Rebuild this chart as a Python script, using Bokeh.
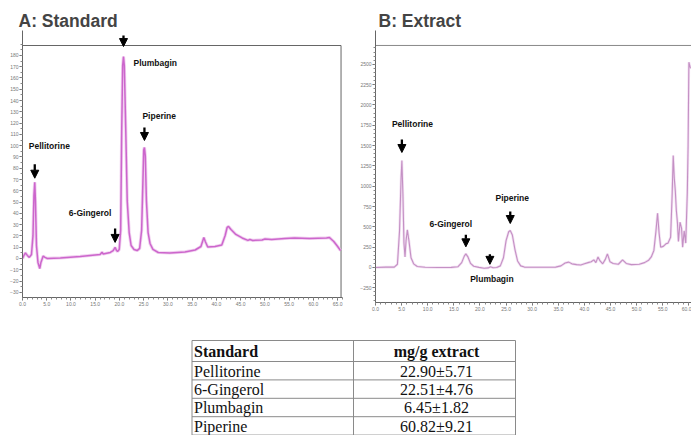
import numpy as np
from bokeh.plotting import figure
from bokeh.layouts import column, row
from bokeh.models import (Range1d, Arrow, NormalHead, FixedTicker,
                          ColumnDataSource, NumeralTickFormatter)
from bokeh.core.properties import value
from bokeh.embed import file_html
from bokeh.resources import INLINE

# ---------------- data ----------------
# A: Standard chromatogram (time in min, signal)
std_time = [0.0, 0.4, 0.6, 1.0, 1.4, 1.85, 2.16, 2.36, 2.53, 2.67, 2.88, 3.19, 3.56, 3.8,
            4.26, 4.63, 5.14, 7.8, 11.9, 16.0, 16.4, 16.65, 18.1, 18.7, 19.1, 19.4, 19.6,
            19.95, 20.25, 20.46, 20.66, 20.83, 21.0, 21.3, 21.6, 22.0, 22.4, 23.0, 23.65,
            24.16, 24.57, 24.84, 25.0, 25.15, 25.33, 25.56, 25.9, 26.3, 26.9, 28.0, 30.4,
            33.5, 35.6, 36.8, 37.2, 37.4, 37.7, 38.2, 39.7, 41.1, 41.8, 42.2, 42.5, 43.0,
            44.0, 45.3, 46.5, 46.9, 47.5, 49.4, 50.0, 51.4, 54.1, 56.1, 59.2, 62.7, 63.3,
            64.2, 65.0, 65.6]
std_signal = [0.0, 3.5, 5.0, 2.7, 1.0, 3.5, 20.0, 56.0, 67.6, 51.0, 11.5, -3.5, -8.9, -3.5,
              2.2, 1.0, 0.0, 0.5, 1.8, 3.5, 5.5, 4.0, 5.3, 7.0, 9.8, 7.0, 6.2,
              8.0, 25.0, 113.0, 171.0, 179.0, 171.0, 113.0, 51.0, 23.0, 11.5, 8.0, 7.0,
              8.9, 25.0, 69.0, 96.0, 98.4, 91.0, 51.0, 23.0, 13.3, 8.0, 5.3, 4.9,
              5.8, 7.5, 10.6, 16.0, 18.6, 15.0, 10.2, 10.6, 12.0, 20.4, 27.5, 28.4, 25.7,
              21.3, 18.2, 16.0, 16.8, 16.0, 16.4, 17.3, 16.8, 17.7, 18.2, 17.7, 18.2, 18.6,
              15.0, 10.6, 7.0]

# B: Extract chromatogram
ext_time = [0.0, 2.0, 3.6, 4.2, 4.6, 4.9, 5.05, 5.25, 5.45, 5.65, 5.85, 6.1, 6.4, 6.8, 7.3,
            8.0, 9.5, 12.0, 14.5, 15.8, 16.5, 17.0, 17.3, 17.7, 18.2, 18.8, 19.8, 20.8,
            21.6, 22.0, 22.5, 23.2, 23.9, 24.5, 25.0, 25.5, 25.8, 26.2, 26.7, 27.2, 27.8,
            28.5, 31.0, 34.5, 35.5, 36.3, 37.0, 37.6, 38.5, 39.3, 40.0, 40.7, 41.3, 41.8,
            42.2, 42.6, 43.0, 43.5, 44.0, 44.4, 44.9, 45.5, 46.5, 47.3, 48.0, 49.0, 50.5,
            51.5, 52.3, 52.8, 53.3, 53.7, 54.0, 54.3, 54.6, 55.1, 55.6, 56.0, 56.5, 56.8,
            57.0, 57.2, 57.4, 57.6, 57.8, 58.0, 58.3, 58.6, 58.8, 59.1, 59.4, 59.7, 59.85,
            60.0, 60.3]
ext_signal = [0, 5, 5, 40, 450, 1100, 1316, 900, 300, 130, 330, 463, 330, 120, 45,
              12, 3, 0, 2, 10, 60, 140, 168, 130, 50, 15, 2, -10,
              -5, 8, -3, 0, 20, 120, 330, 440, 455, 400, 220, 80, 20,
              5, 3, 5, 20, 55, 66, 45, 35, 30, 45, 60, 70, 94,
              60, 130, 80, 45, 100, 168, 70, 50, 40, 94, 50, 35, 40,
              60, 90, 130, 210, 450, 668, 420, 250, 260, 291, 300, 373, 900,
              1378, 1100, 943, 700, 557, 320, 557, 480, 250, 450, 300, 926, 1500,
              2525, 2450]

peak_names = ["Pellitorine", "6-Gingerol", "Plumbagin", "Piperine"]
std_peak_times = [2.53, 19.1, 20.83, 25.15]
ext_peak_times = [5.05, 17.3, 21.9, 25.8]

std_xticks = list(range(0, 70, 5))
std_yticks = list(range(-30, 190, 10))
ext_xticks = list(range(0, 65, 5))
ext_yticks = list(range(-250, 2750, 250))

table_header = ["Standard", "mg/g extract"]
table_standards = ["Pellitorine", "6-Gingerol", "Plumbagin", "Piperine"]
table_values = ["22.90\u00b15.71", "22.51\u00b14.76", "6.45\u00b11.82", "60.82\u00b19.21"]

# ---------------- styling helpers ----------------
SANS = "Liberation Sans"
SERIF = "Liberation Serif"


def style_axes(p, xticks, yticks, xminor, yminor, xfmt):
    p.xaxis.ticker = FixedTicker(ticks=xticks, minor_ticks=xminor)
    p.yaxis.ticker = FixedTicker(ticks=yticks, minor_ticks=yminor)
    p.xaxis.formatter = NumeralTickFormatter(format=xfmt)
    for ax in (p.xaxis, p.yaxis):
        ax.major_label_text_font = SANS
        ax.major_label_text_font_size = "5px"
        ax.major_label_text_color = "#777777"
        ax.axis_line_color = "#666666"
        ax.major_tick_line_color = "#666666"
        ax.minor_tick_line_color = "#888888"
        ax.major_tick_out = 3
        ax.major_tick_in = 0
        ax.minor_tick_out = 2
        ax.minor_tick_in = 0
        ax.major_label_standoff = 1
    p.grid.visible = False


def style_title(p, offset):
    p.title.text_font = SANS
    p.title.text_font_size = "17.5px"
    p.title.text_font_style = "bold"
    p.title.standoff = 0
    p.title.offset = offset


def no_frame_align(p):
    try:
        p.frame_align = False
    except Exception:
        pass


def annotate(p, times, sig_t, sig_v, names, specs, uy, ux):
    tt = np.array(sig_t, dtype=float)
    vv = np.array(sig_v, dtype=float)
    groups = {}
    for name, t0, (gap, length, dx, dy, align) in zip(names, times, specs):
        m = np.abs(tt - t0) <= 0.4
        peak = vv[m].max()
        tip = peak + gap * uy
        tail = tip + length * uy
        p.add_layout(Arrow(end=NormalHead(size=8, fill_color="black", line_color="black",
                                          line_width=1),
                           x_start=t0, y_start=tail, x_end=t0, y_end=tip,
                           line_width=2.3, line_color="black"))
        g = groups.setdefault(align, {"x": [], "y": [], "t": []})
        g["x"].append(t0 + dx * ux)
        g["y"].append(tail + dy * uy)
        g["t"].append(name)
    for align, g in groups.items():
        p.text(x="x", y="y", text="t", source=ColumnDataSource(g),
               text_font=value(SANS), text_font_style="bold", text_font_size="8.5px",
               text_align=align, text_baseline="middle", text_color="#111111")


# ---------------- A: Standard ----------------
a_x = (0.0, 66.0)
a_y = (-34.6, 202.1)
a_top_border, a_right_border = 188.8, 65.7
pa = figure(width=345, height=325, output_backend="svg", toolbar_location=None,
            x_range=Range1d(*a_x), y_range=Range1d(*a_y),
            min_border_left=22, min_border_right=3, min_border_top=30, min_border_bottom=28,
            title="A: Standard")
no_frame_align(pa)
style_title(pa, -4)
pa.outline_line_color = None
style_axes(pa, std_xticks, std_yticks, list(range(0, 67, 1)), list(range(-30, 195, 5)), "0.0")
pa.segment(x0=[a_x[0], a_right_border], x1=[a_right_border, a_right_border],
           y0=[a_top_border, a_y[0]], y1=[a_top_border, a_top_border],
           line_color="#666666", line_width=1)
pa.line(std_time, std_signal, line_color="#ebbcea", line_width=3.2, line_alpha=0.7)
pa.line(std_time, std_signal, line_color="#cc66cc", line_width=1.5)
uy_a = (a_y[1] - a_y[0]) / 267.0
ux_a = (a_x[1] - a_x[0]) / 320.0
specs_a = [(4, 14, -6, 18, "left"), (5, 14, -25, 15, "center"),
           (10, 11, 10, -27, "left"), (7, 13, -2, 11, "left")]
annotate(pa, std_peak_times, std_time, std_signal, peak_names, specs_a, uy_a, ux_a)

# ---------------- B: Extract ----------------
b_x = (0.0, 60.5)
b_y = (-430.5, 2915.0)
b_top_border = 2731.0
pb = figure(width=346, height=325, output_backend="svg", toolbar_location=None,
            x_range=Range1d(*b_x), y_range=Range1d(*b_y),
            min_border_left=30, min_border_right=0, min_border_top=30, min_border_bottom=23,
            title="B: Extract")
no_frame_align(pb)
style_title(pb, 3)
pb.outline_line_color = None
style_axes(pb, ext_xticks, ext_yticks, list(range(0, 61, 1)), list(range(-400, 2701, 50)), "0.0")
pb.segment(x0=[b_x[0]], x1=[b_x[1]], y0=[b_top_border], y1=[b_top_border],
           line_color="#888888", line_width=1)
pb.line(ext_time, ext_signal, line_color="#ecd2ec", line_width=2.6, line_alpha=0.7)
pb.line(ext_time, ext_signal, line_color="#c490c4", line_width=1.1)
uy_b = (b_y[1] - b_y[0]) / 272.0
ux_b = (b_x[1] - b_x[0]) / 316.0
specs_b = [(8, 13, -10, 16, "left"), (7, 12, -15, 11, "center"),
           (2.5, 10, 2, -25, "center"), (7, 12, 2, 14, "center")]
annotate(pb, ext_peak_times, ext_time, ext_signal, peak_names, specs_b, uy_b, ux_b)

# ---------------- table ----------------
tp = figure(width=691, height=110, output_backend="svg", toolbar_location=None,
            x_range=Range1d(0, 691), y_range=Range1d(435, 325),
            min_border=0, x_axis_type=None, y_axis_type=None)
tp.outline_line_color = None
tp.grid.visible = False

t_left, t_mid, t_right = 191.5, 353.0, 515.0
t_top, head_h, row_h = 340.0, 21.0, 18.4
n_rows = len(table_standards)
h_lines = [t_top, t_top + head_h] + [t_top + head_h + row_h * (k + 1) for k in range(n_rows)]
tp.segment(x0=[t_left] * len(h_lines), x1=[t_right] * len(h_lines), y0=h_lines, y1=h_lines,
           line_color="#8a8a8a", line_width=1)
tp.segment(x0=[t_left, t_mid, t_right], x1=[t_left, t_mid, t_right],
           y0=[t_top] * 3, y1=[h_lines[-1]] * 3, line_color="#8a8a8a", line_width=1)

FS = "16px"
head_y = t_top + head_h / 2 + 0.5
tp.text(x=[t_left + 2.0], y=[head_y], text=[table_header[0]], text_font=value(SERIF),
        text_font_style="bold", text_font_size=FS, text_baseline="middle",
        text_align="left", text_color="#111111")
tp.text(x=[(t_mid + t_right) / 2 + 2], y=[head_y], text=[table_header[1]], text_font=value(SERIF),
        text_font_style="bold", text_font_size=FS, text_baseline="middle",
        text_align="center", text_color="#111111")
row_y = [t_top + head_h + row_h * (k + 0.5) + 0.3 for k in range(n_rows)]
tp.text(x=[t_left + 2.0] * n_rows, y=row_y, text=table_standards, text_font=value(SERIF),
        text_font_size=FS, text_baseline="middle", text_align="left", text_color="#111111")
tp.text(x=[(t_mid + t_right) / 2 + 2] * n_rows, y=row_y, text=table_values, text_font=value(SERIF),
        text_font_size=FS, text_baseline="middle", text_align="center", text_color="#111111")

layout = column(row(pa, pb), tp)
open("out.html", "w").write(file_html(layout, INLINE))
